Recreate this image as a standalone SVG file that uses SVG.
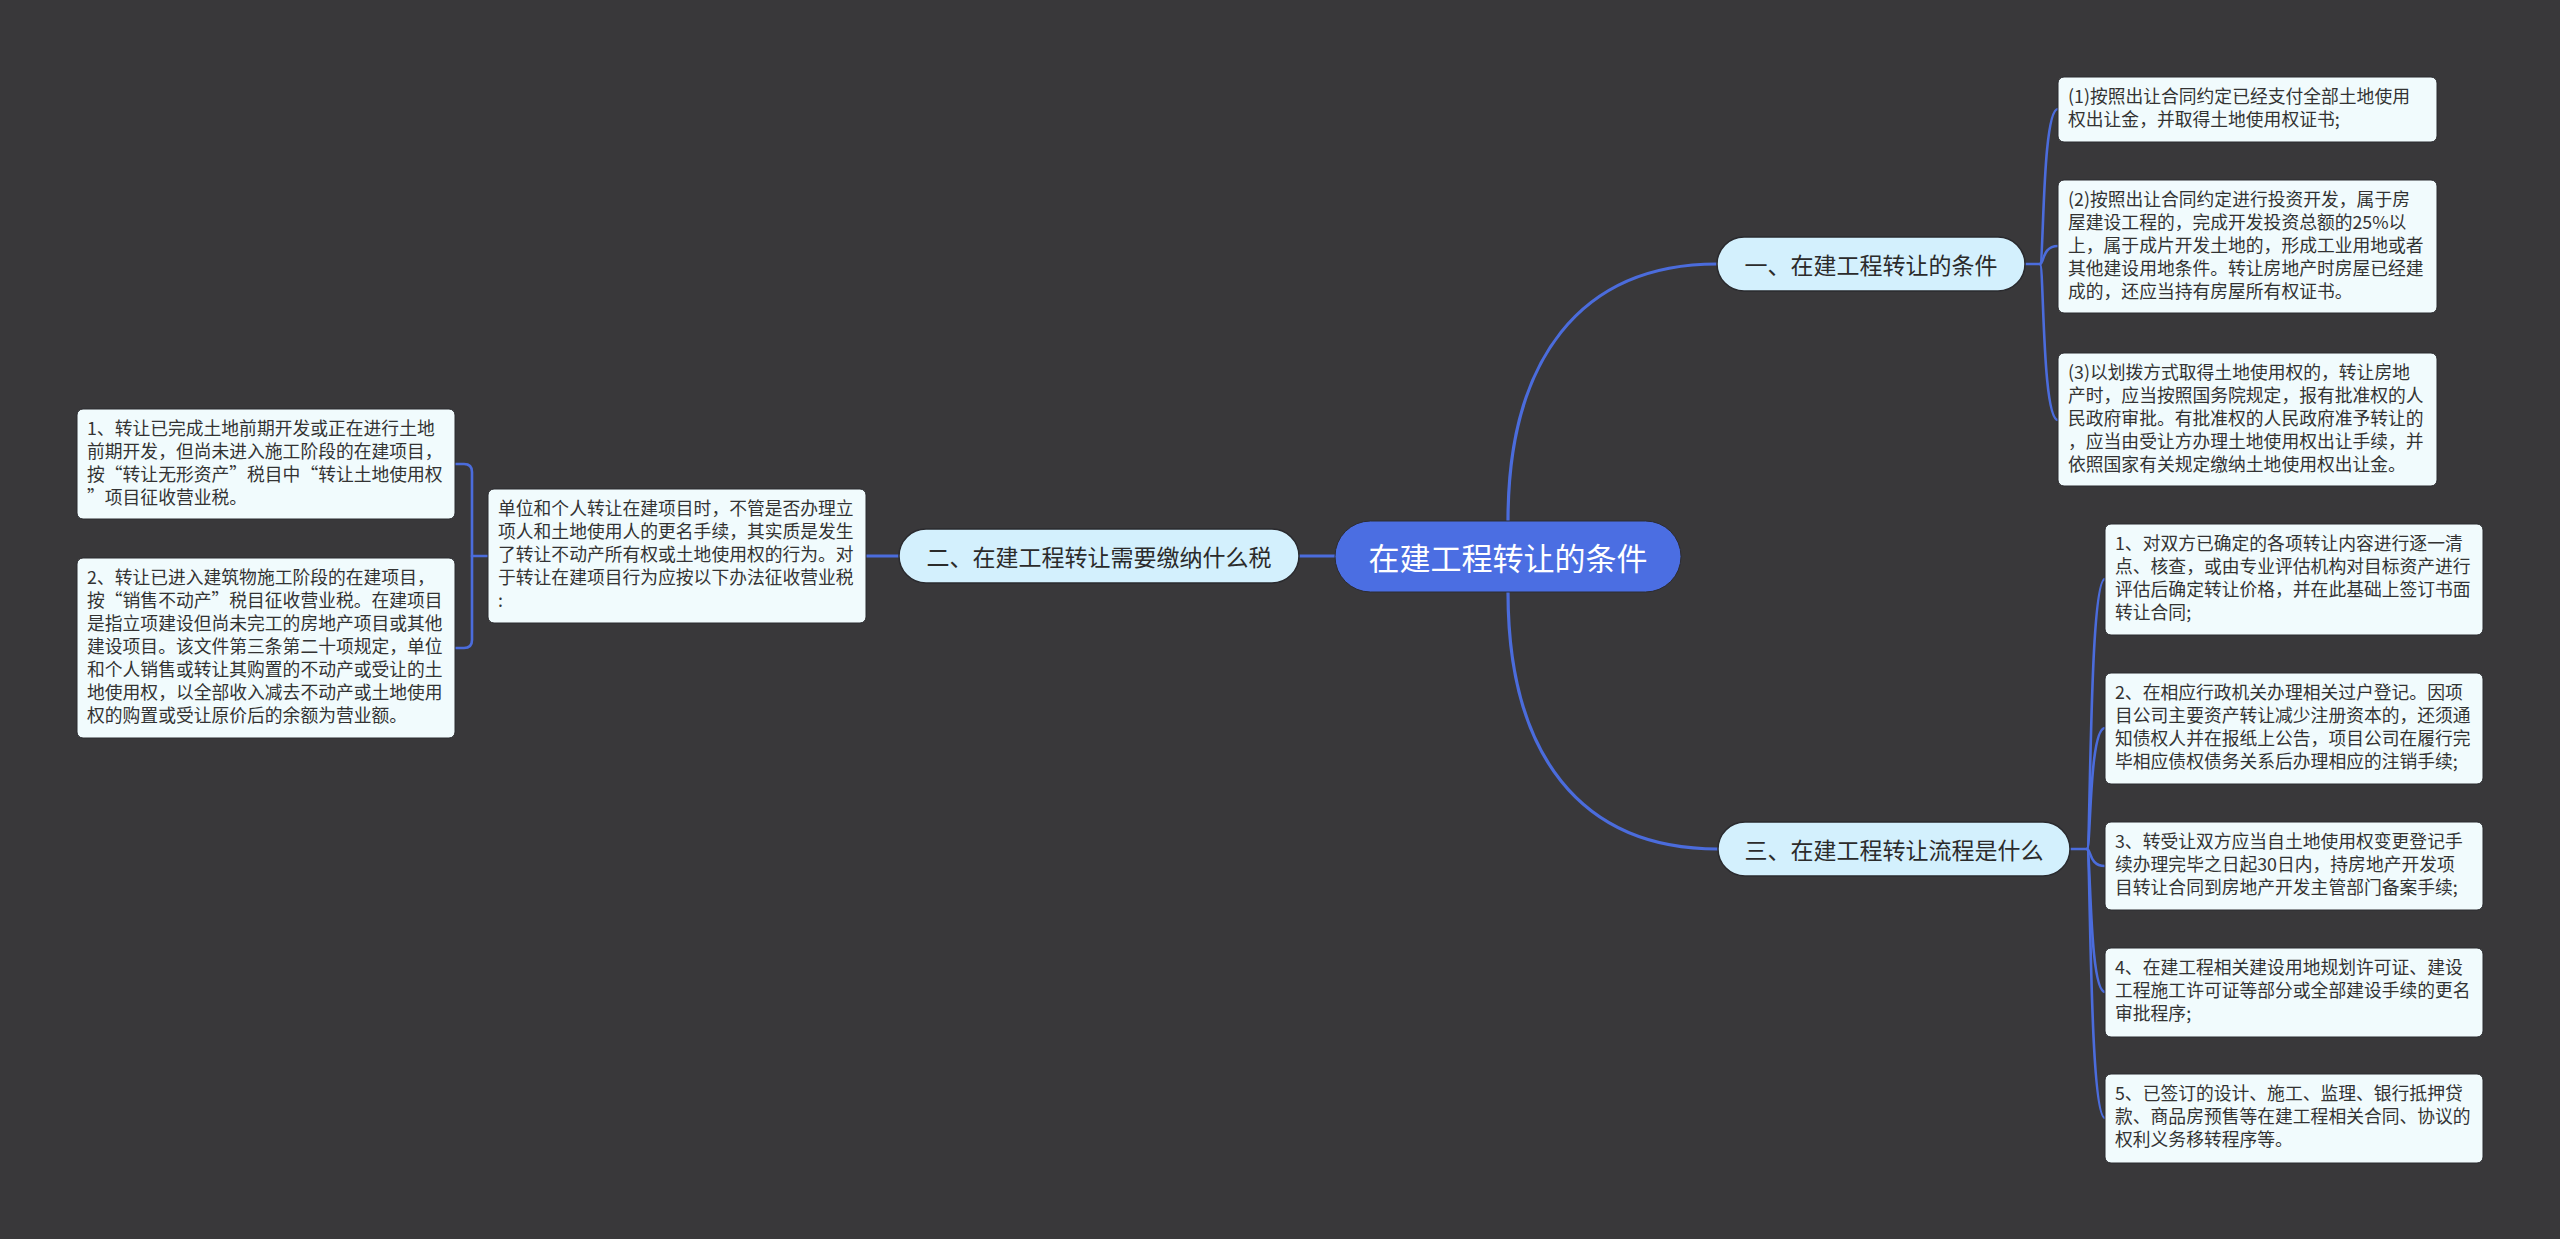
<svg xmlns="http://www.w3.org/2000/svg" width="2560" height="1239" viewBox="0 0 2560 1239">
<style>
.bg{fill:#39383a}
.c{fill:none;stroke:#4b6cdc;stroke-width:3.2;stroke-linecap:round}
.c2{fill:none;stroke:#4b6cdc;stroke-width:2.6;stroke-linecap:round}
.root{fill:#4b6ee2;stroke:#2c2c34;stroke-width:1}
.br{fill:#d3f0fd;stroke:#2a2a2e;stroke-width:1.5}
.lf{fill:#f1fbfd;stroke:#2a2a2e;stroke-width:1}
text{font-family:"Microsoft YaHei","Noto Sans CJK SC","Noto Sans",sans-serif}
.rt{font-size:31px;fill:#ffffff;text-anchor:middle;dominant-baseline:central}
.bt{font-size:23px;fill:#2b2b2b;text-anchor:middle;dominant-baseline:central}
.lt{font-size:17.8px;fill:#333333}
</style>
<rect class="bg" x="0" y="0" width="2560" height="1239"/>
<g id="connectors">
<path class="c" d="M1508 521 C1508 360 1580 264 1717 264"/>
<path class="c" d="M1508 592 C1508 754 1580 849 1718 849"/>
<path class="c" d="M1335 556 H1299"/>
<path class="c" d="M899 556 H866"/>
<path class="c2" d="M488 556 H472"/>
<path class="c2" d="M455 464 H464 Q472 464 472 472 V640 Q472 648 464 648 H455"/>
<path class="c2" d="M2025 264 H2040"/>
<path class="c2" d="M2040 264 C2044 264 2042 109 2058 109"/>
<path class="c2" d="M2040 264 C2044 264 2042 246 2058 246"/>
<path class="c2" d="M2040 264 C2044 264 2042 420 2058 420"/>
<path class="c2" d="M2070 849 H2087"/>
<path class="c2" d="M2087 849 C2091 849 2089 579 2105 579"/>
<path class="c2" d="M2087 849 C2091 849 2089 728 2105 728"/>
<path class="c2" d="M2087 849 C2091 849 2089 866 2105 866"/>
<path class="c2" d="M2087 849 C2091 849 2089 992 2105 992"/>
<path class="c2" d="M2087 849 C2091 849 2089 1118 2105 1118"/>
</g>
<g id="root">
<rect class="root" x="1335" y="521" width="346" height="71" rx="35.5"/>
<text class="rt" x="1508" y="556">在建工程转让的条件</text>
</g>
<g id="branch1">
<rect class="br" x="1717" y="237" width="308" height="54" rx="27"/>
<text class="bt" x="1871" y="264">一、在建工程转让的条件</text>
</g>
<g id="branch2">
<rect class="br" x="899" y="529" width="400" height="54" rx="27"/>
<text class="bt" x="1099" y="556">二、在建工程转让需要缴纳什么税</text>
</g>
<g id="branch3">
<rect class="br" x="1718" y="822" width="352" height="54" rx="27"/>
<text class="bt" x="1894" y="849">三、在建工程转让流程是什么</text>
</g>
<g id="leaf1a">
<rect class="lf" x="2058" y="77" width="379" height="65" rx="6"/>
<text class="lt" x="2068" y="103"><tspan x="2068">(1)按照出让合同约定已经支付全部土地使用</tspan><tspan x="2068" dy="23">权出让金，并取得土地使用权证书;</tspan></text>
</g>
<g id="leaf1b">
<rect class="lf" x="2058" y="180" width="379" height="133" rx="6"/>
<text class="lt" x="2068" y="206"><tspan x="2068">(2)按照出让合同约定进行投资开发，属于房</tspan><tspan x="2068" dy="23">屋建设工程的，完成开发投资总额的25%以</tspan><tspan x="2068" dy="23">上，属于成片开发土地的，形成工业用地或者</tspan><tspan x="2068" dy="23">其他建设用地条件。转让房地产时房屋已经建</tspan><tspan x="2068" dy="23">成的，还应当持有房屋所有权证书。</tspan></text>
</g>
<g id="leaf1c">
<rect class="lf" x="2058" y="353" width="379" height="133" rx="6"/>
<text class="lt" x="2068" y="379"><tspan x="2068">(3)以划拨方式取得土地使用权的，转让房地</tspan><tspan x="2068" dy="23">产时，应当按照国务院规定，报有批准权的人</tspan><tspan x="2068" dy="23">民政府审批。有批准权的人民政府准予转让的</tspan><tspan x="2068" dy="23">，应当由受让方办理土地使用权出让手续，并</tspan><tspan x="2068" dy="23">依照国家有关规定缴纳土地使用权出让金。</tspan></text>
</g>
<g id="leaf2">
<rect class="lf" x="488" y="489" width="378" height="134" rx="6"/>
<text class="lt" x="498" y="515"><tspan x="498">单位和个人转让在建项目时，不管是否办理立</tspan><tspan x="498" dy="23">项人和土地使用人的更名手续，其实质是发生</tspan><tspan x="498" dy="23">了转让不动产所有权或土地使用权的行为。对</tspan><tspan x="498" dy="23">于转让在建项目行为应按以下办法征收营业税</tspan><tspan x="498" dy="23">:</tspan></text>
</g>
<g id="leaf2a">
<rect class="lf" x="77" y="409" width="378" height="110" rx="6"/>
<text class="lt" x="87" y="435"><tspan x="87">1、转让已完成土地前期开发或正在进行土地</tspan><tspan x="87" dy="23">前期开发，但尚未进入施工阶段的在建项目，</tspan><tspan x="87" dy="23">按“转让无形资产”税目中“转让土地使用权</tspan><tspan x="87" dy="23">”项目征收营业税。</tspan></text>
</g>
<g id="leaf2b">
<rect class="lf" x="77" y="558" width="378" height="180" rx="6"/>
<text class="lt" x="87" y="584"><tspan x="87">2、转让已进入建筑物施工阶段的在建项目，</tspan><tspan x="87" dy="23">按“销售不动产”税目征收营业税。在建项目</tspan><tspan x="87" dy="23">是指立项建设但尚未完工的房地产项目或其他</tspan><tspan x="87" dy="23">建设项目。该文件第三条第二十项规定，单位</tspan><tspan x="87" dy="23">和个人销售或转让其购置的不动产或受让的土</tspan><tspan x="87" dy="23">地使用权，以全部收入减去不动产或土地使用</tspan><tspan x="87" dy="23">权的购置或受让原价后的余额为营业额。</tspan></text>
</g>
<g id="leaf3a">
<rect class="lf" x="2105" y="524" width="378" height="111" rx="6"/>
<text class="lt" x="2115" y="550"><tspan x="2115">1、对双方已确定的各项转让内容进行逐一清</tspan><tspan x="2115" dy="23">点、核查，或由专业评估机构对目标资产进行</tspan><tspan x="2115" dy="23">评估后确定转让价格，并在此基础上签订书面</tspan><tspan x="2115" dy="23">转让合同;</tspan></text>
</g>
<g id="leaf3b">
<rect class="lf" x="2105" y="673" width="378" height="111" rx="6"/>
<text class="lt" x="2115" y="699"><tspan x="2115">2、在相应行政机关办理相关过户登记。因项</tspan><tspan x="2115" dy="23">目公司主要资产转让减少注册资本的，还须通</tspan><tspan x="2115" dy="23">知债权人并在报纸上公告，项目公司在履行完</tspan><tspan x="2115" dy="23">毕相应债权债务关系后办理相应的注销手续;</tspan></text>
</g>
<g id="leaf3c">
<rect class="lf" x="2105" y="822" width="378" height="88" rx="6"/>
<text class="lt" x="2115" y="848"><tspan x="2115">3、转受让双方应当自土地使用权变更登记手</tspan><tspan x="2115" dy="23">续办理完毕之日起30日内，持房地产开发项</tspan><tspan x="2115" dy="23">目转让合同到房地产开发主管部门备案手续;</tspan></text>
</g>
<g id="leaf3d">
<rect class="lf" x="2105" y="948" width="378" height="89" rx="6"/>
<text class="lt" x="2115" y="974"><tspan x="2115">4、在建工程相关建设用地规划许可证、建设</tspan><tspan x="2115" dy="23">工程施工许可证等部分或全部建设手续的更名</tspan><tspan x="2115" dy="23">审批程序;</tspan></text>
</g>
<g id="leaf3e">
<rect class="lf" x="2105" y="1074" width="378" height="89" rx="6"/>
<text class="lt" x="2115" y="1100"><tspan x="2115">5、已签订的设计、施工、监理、银行抵押贷</tspan><tspan x="2115" dy="23">款、商品房预售等在建工程相关合同、协议的</tspan><tspan x="2115" dy="23">权利义务移转程序等。</tspan></text>
</g>
</svg>
